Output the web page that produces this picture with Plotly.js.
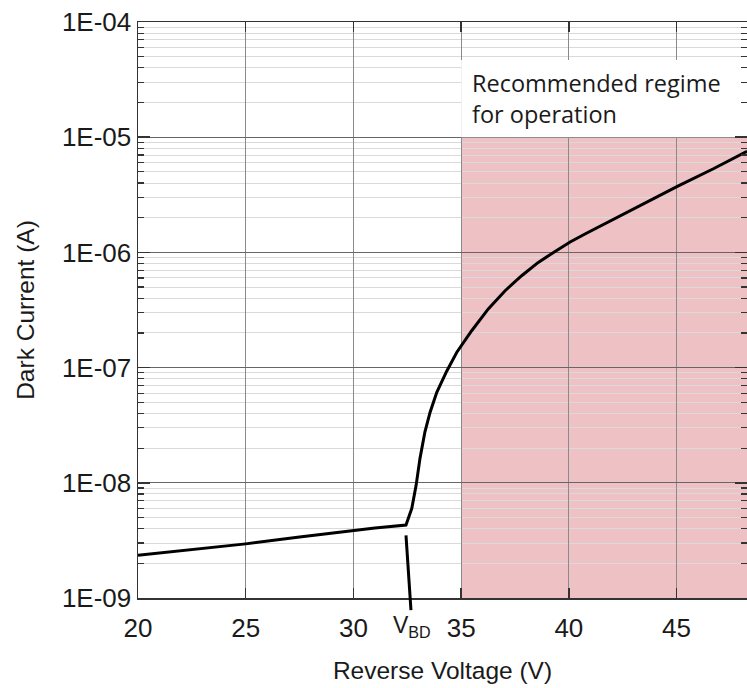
<!DOCTYPE html>
<html>
<head>
<meta charset="utf-8">
<script src="https://cdn.plot.ly/plotly-3.0.1.min.js"></script>
<style>html,body{margin:0;padding:0;background:#fff;}#chart{width:747px;height:688px;}</style>
</head>
<body>
<div id="chart"></div>
<script>
// Reverse voltage (V) and dark current (A)
const voltage = [20, 22.5, 25, 27.5, 29.7, 31.0, 32.44, 32.71, 32.91, 33.09, 33.32, 33.56, 33.87, 34.33, 34.80, 35.49, 36.26, 37.04, 37.81, 38.58, 39.36, 40.06, 40.75, 42.07, 43.62, 45.06, 46.71, 48.27];
const darkCurrent = [2.35e-9, 2.62e-9, 2.95e-9, 3.38e-9, 3.82e-9, 4.05e-9, 4.3e-9, 6.0e-9, 9.5e-9, 1.63e-8, 2.77e-8, 4.1e-8, 6.1e-8, 9.3e-8, 1.36e-7, 2.09e-7, 3.23e-7, 4.65e-7, 6.27e-7, 8.18e-7, 1.02e-6, 1.23e-6, 1.445e-6, 1.94e-6, 2.70e-6, 3.76e-6, 5.32e-6, 7.55e-6];
const xTicks = [20, 25, 30, 35, 40, 45];
const yTickVals = [1e-9, 1e-8, 1e-7, 1e-6, 1e-5, 1e-4];
const yTickText = ["1E-09", "1E-08", "1E-07", "1E-06", "1E-05", "1E-04"];
const regimeStart = 35;          // recommended regime starts at 35 V
const regimeTop = 1e-5;          // shaded up to 1E-05
const vbdVoltage = 32.44;        // breakdown voltage marker
const regimeLabel = "Recommended regime<br>for operation";

const minorVals = [];
for (let e = -9; e < -4; e++) for (let m = 2; m <= 9; m++) minorVals.push(m * Math.pow(10, e));

const xMax = 48.27;
const font = "Liberation Sans, Arial, sans-serif";

const trace = {
  x: voltage, y: darkCurrent, type: "scatter", mode: "lines",
  line: {color: "#000", width: 3, shape: "linear"},
  hoverinfo: "skip"
};

const layout = {
  width: 747, height: 688,
  margin: {l: 138, r: 0, t: 22, b: 90},
  paper_bgcolor: "#fff", plot_bgcolor: "#fff",
  showlegend: false,
  font: {family: font, color: "#1a1a1a", size: 26},
  xaxis: {
    range: [20, xMax], tickvals: xTicks, ticktext: xTicks.map(String),
    ticks: "inside", ticklen: 10, tickwidth: 1.5, tickcolor: "#333",
    showline: true, linecolor: "#333", linewidth: 1.5, mirror: "ticks",
    showgrid: true, gridcolor: "#8a8a8a", gridwidth: 1, zeroline: false,
    tickfont: {size: 26, family: font, color: "#1a1a1a"},
    ticklabelstandoff: 6,
    title: {text: "Reverse Voltage (V)", font: {size: 24.5, family: font, color: "#1a1a1a"}, standoff: 20}
  },
  yaxis: {
    type: "log", range: [-9, -4], tickvals: yTickVals, ticktext: yTickText,
    ticks: "inside", ticklen: 12, tickwidth: 1.5, tickcolor: "#333",
    showline: true, linecolor: "#333", linewidth: 1.5, mirror: "ticks",
    showgrid: true, gridcolor: "#666666", gridwidth: 1, zeroline: false,
    tickfont: {size: 26, family: font, color: "#1a1a1a"},
    minor: {tickmode: "array", tickvals: minorVals, ticks: "inside", ticklen: 6, tickcolor: "#333", tickwidth: 1.2, showgrid: true, gridcolor: "#dadada", gridwidth: 1},
    title: {text: "Dark Current (A)", font: {size: 24.5, family: font, color: "#1a1a1a"}, standoff: 20}
  },
  shapes: [
    {type: "rect", xref: "x", yref: "y", x0: regimeStart, x1: xMax, y0: 1e-9, y1: regimeTop,
     fillcolor: "#eec1c4", line: {width: 0}, layer: "below"},
    {type: "rect", xref: "x", yref: "y", x0: regimeStart, x1: xMax, y0: regimeTop, y1: Math.pow(10, -4.33),
     fillcolor: "#ffffff", line: {width: 0}, layer: "between"}
  ],
  annotations: [
    {xref: "x", yref: "y", x: regimeStart, y: -4.66, xanchor: "left", yanchor: "middle", xshift: 9,
     text: regimeLabel, align: "left", showarrow: false,
     font: {family: "Open Sans, sans-serif", size: 23.5, color: "#1a1a1a"}},
    {xref: "x", yref: "y", x: vbdVoltage, y: Math.log10(3.5e-9),
     axref: "x", ayref: "y", ax: 32.72, ay: -9.245,
     text: "V<sub>BD</sub>", showarrow: true, arrowhead: 0, arrowwidth: 3, arrowcolor: "#000",
     standoff: 0, startstandoff: 0,
     font: {family: font, size: 23, color: "#1a1a1a"}}
  ]
};

Plotly.newPlot("chart", [trace], layout, {displayModeBar: false, staticPlot: true});
</script>
</body>
</html>
